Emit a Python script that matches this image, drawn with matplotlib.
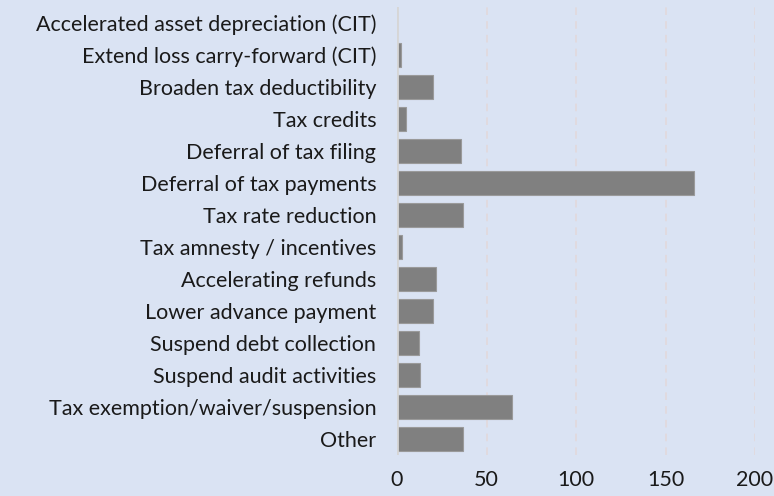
import matplotlib.pyplot as plt

categories = [
    "Accelerated asset depreciation (CIT)",
    "Extend loss carry-forward (CIT)",
    "Broaden tax deductibility",
    "Tax credits",
    "Deferral of tax filing",
    "Deferral of tax payments",
    "Tax rate reduction",
    "Tax amnesty / incentives",
    "Accelerating refunds",
    "Lower advance payment",
    "Suspend debt collection",
    "Suspend audit activities",
    "Tax exemption/waiver/suspension",
    "Other",
]
values = [0, 2, 20, 5, 36, 166, 37, 3, 22, 20, 12, 13, 64, 37]
x_ticks = [0, 50, 100, 150, 200]

bg = "#DAE3F3"
plt.rcParams["font.family"] = ["Lato", "DejaVu Sans"]

fig = plt.figure(figsize=(7.74, 4.96), dpi=100, facecolor=bg)
ax = fig.add_axes([0.513, 0.083, 0.4625, 0.903], facecolor=bg)

pos = list(range(len(categories)))
ax.barh(pos, values, height=0.76, color="#808080", edgecolor="#9a9a9a", linewidth=0.8, zorder=3)

ax.set_ylim(len(categories) - 0.5, -0.5)
ax.set_xlim(0, 200)
ax.set_xticks(x_ticks)
ax.set_yticks(pos)
ax.set_yticklabels(categories, fontsize=15.5, color="#1a1a1a")
ax.tick_params(axis="x", labelsize=15.5, labelcolor="#1a1a1a", length=0, pad=11)
ax.tick_params(axis="y", length=0, pad=15)

# dashed gridlines and the zero line
ax.grid(axis="x", linestyle=(0, (5, 4)), color="#E3D8DA", linewidth=1.1, zorder=0)
ax.axvline(0, color="#D6D6D6", linewidth=2, zorder=4)

for s in ax.spines.values():
    s.set_visible(False)

fig.savefig("out.png", dpi=100, facecolor=bg)
